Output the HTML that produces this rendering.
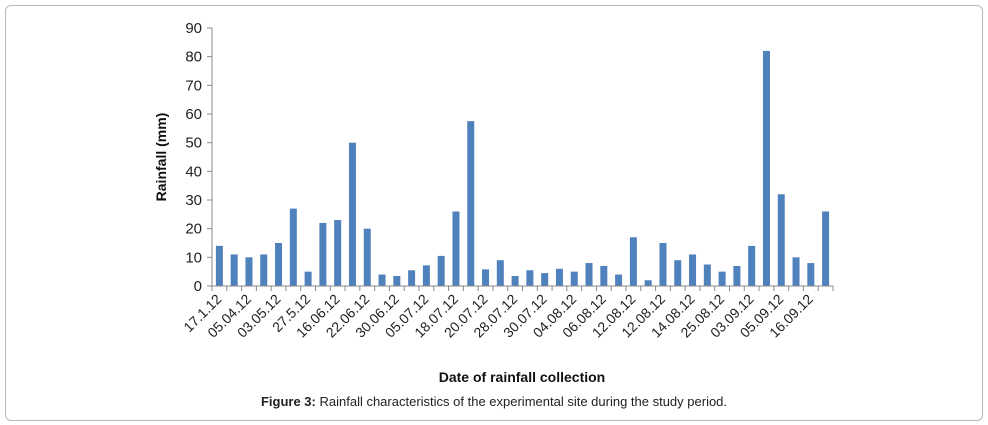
<!DOCTYPE html>
<html><head><meta charset="utf-8"><style>
body{margin:0;background:#fff;width:988px;height:425px;overflow:hidden;font-family:"Liberation Sans",sans-serif}
#frame{position:absolute;left:5px;top:5px;width:976px;height:414px;border:1px solid #b8b8b8;border-radius:6px}
#cap{position:absolute;top:394px;left:0;width:988px;text-align:center;font-size:13px;color:#222}
</style></head><body>
<div id="frame"></div>
<svg id="chart" width="988" height="425" style="position:absolute;left:0;top:0"></svg>
<div id="cap"><b>Figure 3:</b> Rainfall characteristics of the experimental site during the study period.</div>
<script>
const categories=["17.1.12","","05.04.12","","03.05.12","","27.5.12","","16.06.12","","22.06.12","","30.06.12","","05.07.12","","18.07.12","","20.07.12","","28.07.12","","30.07.12","","04.08.12","","06.08.12","","12.08.12","","12.08.12","","14.08.12","","25.08.12","","03.09.12","","05.09.12","","16.09.12",""];
const rainfall=[14,11,10,11,15,27,5,22,23,50,20,4,3.5,5.5,7.2,10.5,26,57.5,5.8,9,3.5,5.5,4.5,6,5,8,7,4,17,2,15,9,11,7.5,5,7,14,82,32,10,8,26];
const yTicks=[0,10,20,30,40,50,60,70,80,90];
const NS="http://www.w3.org/2000/svg",svg=document.getElementById('chart');
const x0=212,x1=833,y0=286,y1=28,yMax=90;
const step=(x1-x0)/rainfall.length;
const y=v=>y0-(v/yMax)*(y0-y1);
const xc=i=>x0+step*(i+0.5);
function mk(t,a){const e=document.createElementNS(NS,t);for(const k in a)e.setAttribute(k,a[k]);svg.appendChild(e);return e;}
rainfall.forEach((v,i)=>{const r=mk('rect',{x:xc(i)-3.5,y:y(v),width:7,height:y0-y(v),fill:'#4f81bd'});

});
let a=mk('line',{x1:x0,y1:y0,x2:x1,y2:y0,stroke:'#888'});

a=mk('line',{x1:x0,y1:y1,x2:x0,y2:y0,stroke:'#888'});

for(let i=0;i<=rainfall.length;i++)mk('line',{x1:x0+step*i,y1:y0,x2:x0+step*i,y2:y0+5,stroke:'#888'});
yTicks.forEach(t=>{mk('line',{x1:x0-5,y1:y(t),x2:x0,y2:y(t),stroke:'#888'});
const e=mk('text',{x:x0-10,y:y(t)+5,'text-anchor':'end','font-size':15,fill:'#222'});e.textContent=t;
});
categories.forEach((c,i)=>{if(!c)return;const X=xc(i)+3,Y=y0+14;
const e=mk('text',{x:X,y:Y,'text-anchor':'end','font-size':14,fill:'#222',transform:`rotate(-45 ${X} ${Y})`});e.textContent=c;
});
let t=mk('text',{x:522,y:382,'text-anchor':'middle','font-size':14,'font-weight':'bold',fill:'#111'});t.textContent='Date of rainfall collection';

t=mk('text',{x:166,y:157,'text-anchor':'middle','font-size':14,'font-weight':'bold',fill:'#111',transform:'rotate(-90 166 157)'});t.textContent='Rainfall (mm)';

</script>
</body></html>
